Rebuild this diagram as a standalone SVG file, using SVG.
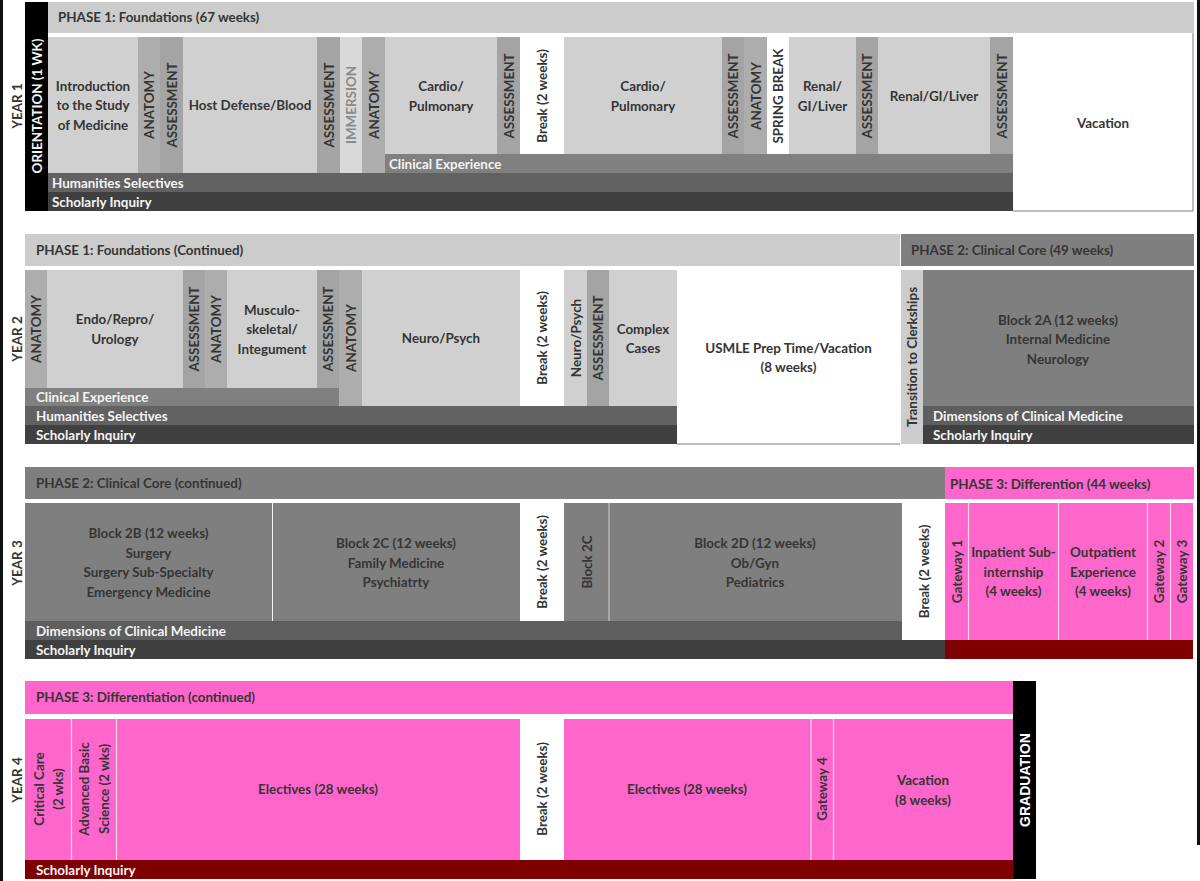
<svg xmlns="http://www.w3.org/2000/svg" width="1200" height="881" viewBox="0 0 1200 881">
<style>
.t{font-family:Lato,"Open Sans","Liberation Sans",sans-serif;font-weight:700;font-size:13.4px;fill:#353535;text-anchor:middle;dominant-baseline:central}
.l{text-anchor:start}
.w{fill:#f4f4f4}
.im{fill:#8a8a8a}
.gr{font-family:"Liberation Sans",Arial,sans-serif;font-weight:700;font-size:14px;fill:#ffffff;text-anchor:middle;dominant-baseline:central}
.hdr{fill:#cccccc}
.crs{fill:#d0d0d0}
.anat{fill:#adadad}
.ass{fill:#a4a4a4}
.imm{fill:#d9d9d9}
.clin{fill:#808080}
.hum{fill:#626262}
.sch{fill:#404040}
.p2{fill:#7f7f7f}
.dim{fill:#5e5e5e}
.pk{fill:#ff66cc}
.dr{fill:#7f0000}
.wh{fill:#ffffff}
.sep{stroke:#f2f2f2;stroke-width:1}
.psep{stroke:#ffd6f2;stroke-width:1.2}
.bd{stroke:#7a7a7a;stroke-width:1;fill:none}
</style>
<rect x="0" y="0" width="1200" height="881" fill="#ffffff"/>
<rect x="0" y="0" width="3" height="881" fill="#111111"/>
<rect x="1197" y="0" width="3" height="845" fill="#111111"/>

<!-- YEAR 1 -->
<g id="year1">
<text class="t" transform="translate(17,106) rotate(-90)">YEAR 1</text>
<g id="y1-orientation"><rect x="25" y="2" width="23" height="209" fill="#000"/><text class="t w" transform="translate(36.5,106) rotate(-90)">ORIENTATION (1 WK)</text></g>
<g id="y1-phase1"><rect class="hdr" x="48" y="2" width="1146" height="31"/><text class="t l" x="58" y="17">PHASE 1: Foundations (67 weeks)</text></g>
<g id="y1-intro"><rect class="crs" x="48" y="37" width="90" height="136"/><text class="t" x="93" y="85.5">Introduction</text><text class="t" x="93" y="105">to the Study</text><text class="t" x="93" y="124.5">of Medicine</text></g>
<g id="y1-anat1"><rect class="anat" x="138" y="37" width="22" height="136"/><text class="t" transform="translate(149,105) rotate(-90)">ANATOMY</text></g>
<g id="y1-ass1"><rect class="ass" x="160" y="37" width="23" height="136"/><text class="t" transform="translate(171.5,105) rotate(-90)">ASSESSMENT</text></g>
<g id="y1-host"><rect class="crs" x="183" y="37" width="134" height="136"/><text class="t" x="250" y="105">Host Defense/Blood</text></g>
<g id="y1-ass2"><rect class="ass" x="317" y="37" width="23" height="136"/><text class="t" transform="translate(328.5,105) rotate(-90)">ASSESSMENT</text></g>
<g id="y1-imm"><rect class="imm" x="340" y="37" width="22" height="136"/><text class="t im" transform="translate(351,105) rotate(-90)">IMMERSION</text></g>
<g id="y1-anat2"><rect class="anat" x="362" y="37" width="23" height="136"/><text class="t" transform="translate(373.5,105) rotate(-90)">ANATOMY</text></g>
<g id="y1-cardio1"><rect class="crs" x="385" y="37" width="112" height="117"/><text class="t" x="441" y="86">Cardio/</text><text class="t" x="441" y="106">Pulmonary</text></g>
<g id="y1-ass3"><rect class="ass" x="497" y="37" width="23" height="117"/><text class="t" transform="translate(508.5,96) rotate(-90)">ASSESSMENT</text></g>
<g id="y1-break"><rect class="wh" x="520" y="37" width="44" height="117"/><text class="t" transform="translate(542,96) rotate(-90)">Break (2 weeks)</text></g>
<g id="y1-cardio2"><rect class="crs" x="564" y="37" width="158" height="117"/><text class="t" x="643" y="86">Cardio/</text><text class="t" x="643" y="106">Pulmonary</text></g>
<g id="y1-ass4"><rect class="ass" x="722" y="37" width="22" height="117"/><text class="t" transform="translate(733,96) rotate(-90)">ASSESSMENT</text></g>
<g id="y1-anat3"><rect class="anat" x="744" y="37" width="23" height="117"/><text class="t" transform="translate(755.5,96) rotate(-90)">ANATOMY</text></g>
<g id="y1-spring"><rect class="wh" x="767" y="37" width="22" height="117"/><text class="t" transform="translate(778,96) rotate(-90)">SPRING BREAK</text></g>
<g id="y1-renal1"><rect class="crs" x="789" y="37" width="67" height="117"/><text class="t" x="822.5" y="86">Renal/</text><text class="t" x="822.5" y="106">GI/Liver</text></g>
<g id="y1-ass5"><rect class="ass" x="856" y="37" width="22" height="117"/><text class="t" transform="translate(867,96) rotate(-90)">ASSESSMENT</text></g>
<g id="y1-renal2"><rect class="crs" x="878" y="37" width="112" height="117"/><text class="t" x="934" y="96">Renal/GI/Liver</text></g>
<g id="y1-ass6"><rect class="ass" x="990" y="37" width="23" height="117"/><text class="t" transform="translate(1001.5,96) rotate(-90)">ASSESSMENT</text></g>
<g id="y1-vacation"><rect class="wh" x="1013" y="33" width="180" height="178"/><path class="bd" d="M1193,33 V211 H1013"/><text class="t" x="1103" y="123">Vacation</text></g>
<g id="y1-clin"><rect class="clin" x="385" y="154" width="628" height="19"/><text class="t l w" x="389" y="164">Clinical Experience</text></g>
<g id="y1-hum"><rect class="hum" x="48" y="173" width="965" height="19"/><text class="t l w" x="52" y="183">Humanities Selectives</text></g>
<g id="y1-sch"><rect class="sch" x="48" y="192" width="965" height="19"/><text class="t l w" x="52" y="202">Scholarly Inquiry</text></g>
</g>

<!-- YEAR 2 -->
<g id="year2">
<text class="t" transform="translate(17,339) rotate(-90)">YEAR 2</text>
<g id="y2-phase1"><rect class="hdr" x="25" y="234" width="875" height="32"/><text class="t l" x="36" y="250">PHASE 1: Foundations (Continued)</text></g>
<g id="y2-phase2"><rect class="p2" x="901" y="234" width="293" height="32"/><text class="t l" x="911" y="250">PHASE 2: Clinical Core (49 weeks)</text></g>
<g id="y2-anat1"><rect class="anat" x="25" y="270" width="22" height="118"/><text class="t" transform="translate(36,329) rotate(-90)">ANATOMY</text></g>
<g id="y2-endo"><rect class="crs" x="47" y="270" width="136" height="118"/><text class="t" x="115" y="319">Endo/Repro/</text><text class="t" x="115" y="339">Urology</text></g>
<g id="y2-ass1"><rect class="ass" x="183" y="270" width="22" height="118"/><text class="t" transform="translate(194,329) rotate(-90)">ASSESSMENT</text></g>
<g id="y2-anat2"><rect class="anat" x="205" y="270" width="22" height="118"/><text class="t" transform="translate(216,329) rotate(-90)">ANATOMY</text></g>
<g id="y2-musc"><rect class="crs" x="227" y="270" width="90" height="118"/><text class="t" x="272" y="309.5">Musculo-</text><text class="t" x="272" y="329">skeletal/</text><text class="t" x="272" y="348.5">Integument</text></g>
<g id="y2-ass2"><rect class="ass" x="317" y="270" width="22" height="118"/><text class="t" transform="translate(328,329) rotate(-90)">ASSESSMENT</text></g>
<g id="y2-anat3"><rect class="anat" x="339" y="270" width="23" height="136"/><text class="t" transform="translate(350.5,338) rotate(-90)">ANATOMY</text></g>
<g id="y2-neuro"><rect class="crs" x="362" y="270" width="158" height="136"/><text class="t" x="441" y="338">Neuro/Psych</text></g>
<g id="y2-break"><rect class="wh" x="520" y="270" width="44" height="136"/><text class="t" transform="translate(542,338) rotate(-90)">Break (2 weeks)</text></g>
<g id="y2-neuro2"><rect class="crs" x="564" y="270" width="23" height="136"/><text class="t" transform="translate(575.5,338) rotate(-90)">Neuro/Psych</text></g>
<g id="y2-ass3"><rect class="ass" x="587" y="270" width="22" height="136"/><text class="t" transform="translate(598,338) rotate(-90)">ASSESSMENT</text></g>
<g id="y2-complex"><rect class="crs" x="609" y="270" width="68" height="136"/><text class="t" x="643" y="328.5">Complex</text><text class="t" x="643" y="348">Cases</text></g>
<g id="y2-usmle"><rect class="wh" x="677" y="270" width="223" height="174"/><path class="bd" d="M677,444 H900"/><text class="t" x="788.5" y="348">USMLE Prep Time/Vacation</text><text class="t" x="788.5" y="367">(8 weeks)</text></g>
<g id="y2-transition"><rect class="hdr" x="901" y="270" width="22" height="174"/><text class="t" transform="translate(912,357) rotate(-90)">Transition to Clerkships</text></g>
<g id="y2-block2a"><rect class="p2" x="923" y="270" width="271" height="136"/><text class="t" x="1058" y="319.5">Block 2A (12 weeks)</text><text class="t" x="1058" y="339">Internal Medicine</text><text class="t" x="1058" y="358.5">Neurology</text></g>
<g id="y2-clin"><rect class="clin" x="25" y="388" width="314" height="18"/><text class="t l w" x="36" y="397">Clinical Experience</text></g>
<g id="y2-hum"><rect class="hum" x="25" y="406" width="652" height="19"/><text class="t l w" x="36" y="416">Humanities Selectives</text></g>
<g id="y2-sch"><rect class="sch" x="25" y="425" width="652" height="19"/><text class="t l w" x="36" y="435">Scholarly Inquiry</text></g>
<g id="y2-dim"><rect class="dim" x="923" y="406" width="271" height="19"/><text class="t l w" x="933" y="416">Dimensions of Clinical Medicine</text></g>
<g id="y2-sch2"><rect class="sch" x="923" y="425" width="271" height="19"/><text class="t l w" x="933" y="435">Scholarly Inquiry</text></g>
</g>

<!-- YEAR 3 -->
<g id="year3">
<text class="t" transform="translate(17,563) rotate(-90)">YEAR 3</text>
<g id="y3-phase2"><rect class="p2" x="25" y="467" width="920" height="32"/><text class="t l" x="36" y="483">PHASE 2: Clinical Core (continued)</text></g>
<g id="y3-phase3"><rect class="pk" x="945" y="467" width="249" height="32"/><text class="t l" x="950" y="484">PHASE 3: Differention (44 weeks)</text></g>
<g id="y3-block2b"><rect class="p2" x="25" y="503" width="247" height="118"/><text class="t" x="148.5" y="533">Block 2B (12 weeks)</text><text class="t" x="148.5" y="552.5">Surgery</text><text class="t" x="148.5" y="572">Surgery Sub-Specialty</text><text class="t" x="148.5" y="591.5">Emergency Medicine</text></g>
<g id="y3-block2c"><rect class="p2" x="272" y="503" width="248" height="118"/><line class="sep" x1="272.5" y1="503" x2="272.5" y2="621"/><text class="t" x="396" y="543">Block 2C (12 weeks)</text><text class="t" x="396" y="562.5">Family Medicine</text><text class="t" x="396" y="582">Psychiatrty</text></g>
<g id="y3-break1"><rect class="wh" x="520" y="503" width="44" height="118"/><text class="t" transform="translate(542,562) rotate(-90)">Break (2 weeks)</text></g>
<g id="y3-block2c-b"><rect class="p2" x="564" y="503" width="45" height="118"/><text class="t" transform="translate(586.5,562) rotate(-90)">Block 2C</text></g>
<g id="y3-block2d"><rect class="p2" x="609" y="503" width="293" height="118"/><line class="sep" x1="609" y1="503" x2="609" y2="621" stroke-opacity="0.7"/><text class="t" x="755" y="543">Block 2D (12 weeks)</text><text class="t" x="755" y="562.5">Ob/Gyn</text><text class="t" x="755" y="582">Pediatrics</text></g>
<g id="y3-break2"><rect class="wh" x="902" y="503" width="43" height="137"/><text class="t" transform="translate(923.5,571.5) rotate(-90)">Break (2 weeks)</text></g>
<g id="y3-gateway1"><rect class="pk" x="945" y="503" width="23" height="137"/><text class="t" transform="translate(956.5,571.5) rotate(-90)">Gateway 1</text></g>
<g id="y3-inpatient"><rect class="pk" x="968" y="503" width="90" height="137"/><line class="psep" x1="968.5" y1="503" x2="968.5" y2="640"/><text class="t" x="1013.5" y="552">Inpatient Sub-</text><text class="t" x="1013.5" y="571.5">internship</text><text class="t" x="1013.5" y="591">(4 weeks)</text></g>
<g id="y3-outpatient"><rect class="pk" x="1058" y="503" width="89" height="137"/><line class="psep" x1="1058.5" y1="503" x2="1058.5" y2="640"/><text class="t" x="1103" y="552">Outpatient</text><text class="t" x="1103" y="571.5">Experience</text><text class="t" x="1103" y="591">(4 weeks)</text></g>
<g id="y3-gateway2"><rect class="pk" x="1147" y="503" width="23" height="137"/><line class="psep" x1="1147.5" y1="503" x2="1147.5" y2="640"/><text class="t" transform="translate(1159,571.5) rotate(-90)">Gateway 2</text></g>
<g id="y3-gateway3"><rect class="pk" x="1170" y="503" width="23" height="137"/><line class="psep" x1="1170.5" y1="503" x2="1170.5" y2="640"/><text class="t" transform="translate(1182,571.5) rotate(-90)">Gateway 3</text></g>
<g id="y3-dim"><rect class="dim" x="25" y="621" width="877" height="19"/><text class="t l w" x="36" y="631">Dimensions of Clinical Medicine</text></g>
<g id="y3-sch"><rect class="sch" x="25" y="640" width="920" height="19"/><text class="t l w" x="36" y="650">Scholarly Inquiry</text></g>
<g id="y3-p3band"><rect class="dr" x="945" y="640" width="248" height="19"/></g>
</g>

<!-- YEAR 4 -->
<g id="year4">
<text class="t" transform="translate(17,780) rotate(-90)">YEAR 4</text>
<g id="y4-phase3"><rect class="pk" x="25" y="681" width="988" height="33"/><text class="t l" x="36" y="697">PHASE 3: Differentiation (continued)</text></g>
<g id="y4-critical"><rect class="pk" x="25" y="719" width="46" height="141"/><text class="t" transform="translate(48,789) rotate(-90)"><tspan x="0" y="-9.5">Critical Care</tspan><tspan x="0" y="10">(2 wks)</tspan></text></g>
<g id="y4-advanced"><rect class="pk" x="71" y="719" width="45" height="141"/><line class="psep" x1="71.5" y1="719" x2="71.5" y2="860"/><text class="t" transform="translate(93.5,789) rotate(-90)"><tspan x="0" y="-9.5">Advanced Basic</tspan><tspan x="0" y="10">Science (2 wks)</tspan></text></g>
<g id="y4-electives1"><rect class="pk" x="116" y="719" width="404" height="141"/><line class="psep" x1="116.5" y1="719" x2="116.5" y2="860"/><text class="t" x="318" y="789">Electives (28 weeks)</text></g>
<g id="y4-break"><rect class="wh" x="520" y="719" width="44" height="141"/><text class="t" transform="translate(542,789) rotate(-90)">Break (2 weeks)</text></g>
<g id="y4-electives2"><rect class="pk" x="564" y="719" width="247" height="141"/><text class="t" x="687" y="789">Electives (28 weeks)</text></g>
<g id="y4-gateway4"><rect class="pk" x="811" y="719" width="22" height="141"/><line class="psep" x1="811" y1="719" x2="811" y2="861"/><text class="t" transform="translate(822,789) rotate(-90)">Gateway 4</text></g>
<g id="y4-vacation"><rect class="pk" x="833" y="719" width="180" height="141"/><line class="psep" x1="833.5" y1="719" x2="833.5" y2="861"/><text class="t" x="923" y="780">Vacation</text><text class="t" x="923" y="799.5">(8 weeks)</text></g>
<g id="y4-sch"><rect class="dr" x="25" y="860" width="988" height="19"/><text class="t l w" x="36" y="869.5">Scholarly Inquiry</text></g>
<g id="y4-graduation"><rect x="1013" y="681" width="23" height="198" fill="#000"/><text class="gr" transform="translate(1024.5,780) rotate(-90)">GRADUATION</text></g>
</g>

<g id="connectors"/>
</svg>
